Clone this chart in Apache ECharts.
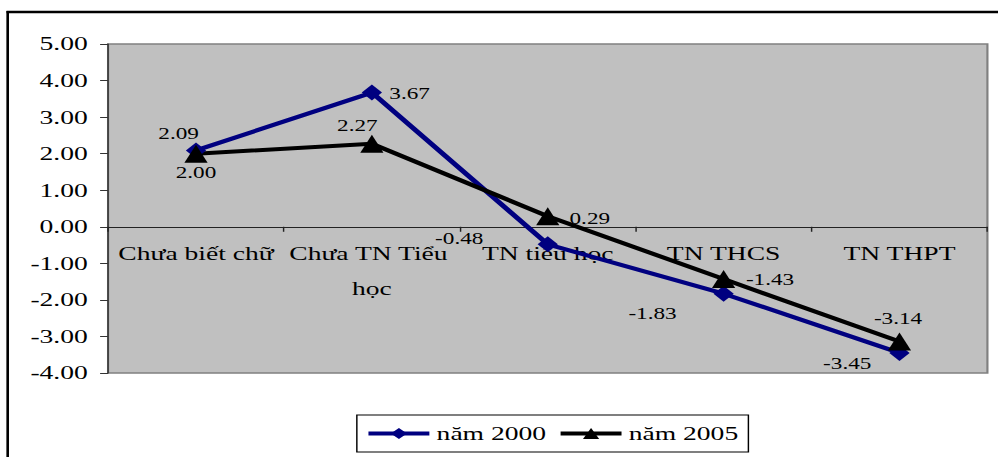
<!DOCTYPE html>
<html>
<head>
<meta charset="utf-8">
<script src="https://cdn.jsdelivr.net/npm/echarts@6/dist/echarts.min.js"></script>
<style>
  html, body { margin: 0; padding: 0; background: #fff; overflow: hidden; }
  /* the chart is laid out narrow and widened, giving the broad lettering of the original sheet */
  #chart { width: 688px; height: 457px; transform: scaleX(1.4506); transform-origin: 0 0; }
</style>
</head>
<body>
<div id="chart"></div>
<script>
// Education level categories
const categories = ['Chưa biết chữ', 'Chưa TN Tiểu học', 'TN tiểu học', 'TN THCS', 'TN THPT'];
// Series values
const values2000 = [2.09, 3.67, -0.48, -1.83, -3.45];
const values2005 = [2.00, 2.27, 0.29, -1.43, -3.14];
// Value axis range and step
const yMin = -4;
const yMax = 5;
const yStep = 1;

// Label offsets (px from each marker centre)
const labelOffsets2000 = [[-12, -17], [26, 1], [-61, -6], [-49, 20], [-36, 10]];
const labelOffsets2005 = [[0, 19], [-10, -18], [29, 2], [32, 0], [-1, -23]];

const FONT = 'Liberation Serif, serif';

function withLabels(values, offsets) {
  return values.map((v, i) => ({ value: v, label: { offset: offsets[i] } }));
}

const chart = echarts.init(document.getElementById('chart'), null, { renderer: 'svg' });

const option = {
  animation: false,
  backgroundColor: '#fff',
  textStyle: { fontFamily: FONT },
  graphic: [
    { type: 'line', shape: { x1: 4.5, y1: 12, x2: 700, y2: 12 }, style: { stroke: '#000', lineWidth: 2.5 } },
    { type: 'line', shape: { x1: 5.3, y1: 11, x2: 5.3, y2: 470 }, style: { stroke: '#000', lineWidth: 1.8 } }
  ],
  grid: {
    left: 74.5, right: 7.3, top: 44, bottom: 84,
    show: true,
    backgroundColor: '#C0C0C0',
    borderColor: '#808080',
    borderWidth: 1.5,
    outerBoundsMode: 'none'
  },
  legend: {
    left: 246, top: 415,
    itemWidth: 42, itemHeight: 14, itemGap: 8,
    padding: [9, 7, 9, 6],
    borderColor: '#000', borderWidth: 1,
    lineStyle: { width: 4 },
    textStyle: { fontFamily: FONT, fontSize: 19, color: '#000' },
    data: ['năm 2000', 'năm 2005']
  },
  xAxis: {
    type: 'category',
    data: categories,
    boundaryGap: true,
    offset: 0,
    axisLine: { onZero: false, lineStyle: { color: '#222', width: 1 } },
    axisTick: { show: true, length: 5, alignWithLabel: false, lineStyle: { color: '#222' } },
    axisLabel: {
      interval: 0, margin: 9, width: 140, overflow: 'break',
      lineHeight: 35, fontSize: 19, color: '#000', fontFamily: FONT
    },
    splitLine: { show: false }
  },
  yAxis: {
    type: 'value',
    min: yMin, max: yMax, interval: yStep,
    axisLine: { show: true, lineStyle: { color: '#333', width: 1 } },
    axisTick: { show: true, length: 5.5, lineStyle: { color: '#333' } },
    axisLabel: {
      margin: 14, fontSize: 19, color: '#000', fontFamily: FONT,
      formatter: v => v.toFixed(2)
    },
    splitLine: { show: false }
  },
  series: [
    {
      name: 'năm 2000',
      type: 'line',
      data: withLabels(values2000, labelOffsets2000),
      symbol: 'diamond',
      symbolSize: [14, 16],
      lineStyle: { color: '#000080', width: 4 },
      itemStyle: { color: '#000080' },
      label: {
        show: true, position: 'inside', fontSize: 16, color: '#000', fontFamily: FONT,
        formatter: p => p.value.toFixed(2)
      }
    },
    {
      name: 'năm 2005',
      type: 'line',
      data: withLabels(values2005, labelOffsets2005),
      symbol: 'triangle',
      symbolSize: [16, 18],
      lineStyle: { color: '#000', width: 4 },
      itemStyle: { color: '#000' },
      label: {
        show: true, position: 'inside', fontSize: 16, color: '#000', fontFamily: FONT,
        formatter: p => p.value.toFixed(2)
      }
    }
  ]
};

chart.setOption(option);

// Lift the category axis (line, ticks and labels) up to the zero line of the value scale
const gridBottom = chart.convertToPixel({ yAxisIndex: 0 }, yMin);
const zeroY = chart.convertToPixel({ yAxisIndex: 0 }, 0);
chart.setOption({ xAxis: { offset: zeroY - gridBottom } });
</script>
</body>
</html>
